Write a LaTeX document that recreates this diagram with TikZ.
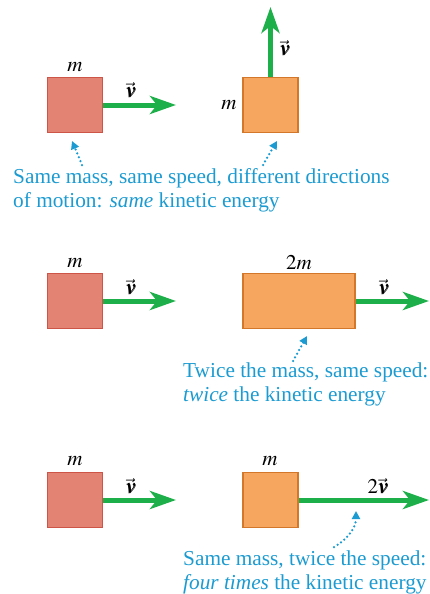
\documentclass[tikz,border=0pt]{standalone}
\usepackage{mathptmx}
\usepackage{bm}
\usepackage{fontspec}
\setmainfont{Liberation Serif}
\usetikzlibrary{arrows.meta}
\definecolor{redfill}{RGB}{227,131,116}
\definecolor{reddraw}{RGB}{204,85,72}
\definecolor{orfill}{RGB}{246,166,94}
\definecolor{ordraw}{RGB}{211,120,42}
\definecolor{velgreen}{RGB}{29,176,74}
\definecolor{noteblue}{RGB}{27,155,209}
\newcommand{\vv}{\vec{\bm{v}}}
\begin{document}
\begin{tikzpicture}[x=1pt, y=-1pt, font=\fontsize{21}{24}\selectfont,
    redbox/.style={draw=reddraw, fill=redfill, line width=1.5pt, minimum width=55pt, minimum height=55pt, inner sep=0pt},
    orbox/.style={draw=ordraw, fill=orfill, line width=1.5pt, minimum height=55pt, inner sep=0pt},
    vel/.style={velgreen, line width=5pt, -{Stealth[length=26pt, width=18pt, inset=7pt]}},
    note/.style={text=noteblue, align=left, inner sep=0pt, anchor=north west,
        font=\fontspec{Liberation Serif}\fontsize{21.3}{24}\selectfont},
    pointer/.style={noteblue, line width=2.5pt, line cap=round, dash pattern=on 0pt off 4.2pt,
        -{Triangle[length=8pt, width=8pt]}}]
    \useasboundingbox (0,0) rectangle (429,594);

    % Nodes
    \node[redbox] (A1) at (75,105) {};
    \node[orbox, minimum width=55pt] (B1) at (270.5,105) {};
    \node[redbox] (A2) at (75,301) {};
    \node[orbox, minimum width=112pt] (B2) at (299,301) {};
    \node[redbox] (A3) at (75,500) {};
    \node[orbox, minimum width=55pt] (B3) at (270.5,500) {};

    % Labels
    \node (mA1) at (75,67) {$m$};
    \node (vA1) at (131,90) {$\vv$};
    \node (mB1) at (229,105) {$m$};
    \node (vB1) at (285,48) {$\vv$};
    \node (mA2) at (75,263) {$m$};
    \node (vA2) at (131,287) {$\vv$};
    \node (mB2) at (299,263) {$2m$};
    \node (vB2) at (384,287) {$\vv$};
    \node (mA3) at (75,461) {$m$};
    \node (vA3) at (131,486) {$\vv$};
    \node (mB3) at (270,461) {$m$};
    \node (vB3) at (378,486) {$2\vv$};

    % Notes
    \node[note] (T1) at (13,168) {Same mass, same speed, different directions\\of motion: \emph{same} kinetic energy};
    \node[note] (T2) at (183,363) {Twice the mass, same speed:\\\emph{twice} the kinetic energy};
    \node[note] (T3) at (183,551) {Same mass, twice the speed:\\\emph{four times} the kinetic energy};

    % Free ends
    \coordinate (eA1) at (176,105);
    \coordinate (eB1) at (270.5,7);
    \coordinate (eA2) at (176,301);
    \coordinate (eB2) at (429,301);
    \coordinate (eA3) at (176,500);
    \coordinate (eB3) at (429,500);
    \coordinate (p1) at (82,165);
    \coordinate (q1) at (72,141);
    \coordinate (p2) at (263,165);
    \coordinate (q2) at (277,141);
    \coordinate (p3) at (293,361);
    \coordinate (q3) at (307,336);
    \coordinate (p4) at (334,547);
    \coordinate (q4) at (356,511);

    % Velocities
    \draw[vel] (A1.east) -- (eA1);
    \draw[vel] (B1.north) -- (eB1);
    \draw[vel] (A2.east) -- (eA2);
    \draw[vel] (B2.east) -- (eB2);
    \draw[vel] (A3.east) -- (eA3);
    \draw[vel] (B3.east) -- (eB3);

    % Pointers
    \draw[pointer] (p1) -- (q1);
    \draw[pointer] (p2) -- (q2);
    \draw[pointer] (p3) -- (q3);
    \draw[pointer] (p4) to[out=30, in=-90] (q4);
\end{tikzpicture}
\end{document}
